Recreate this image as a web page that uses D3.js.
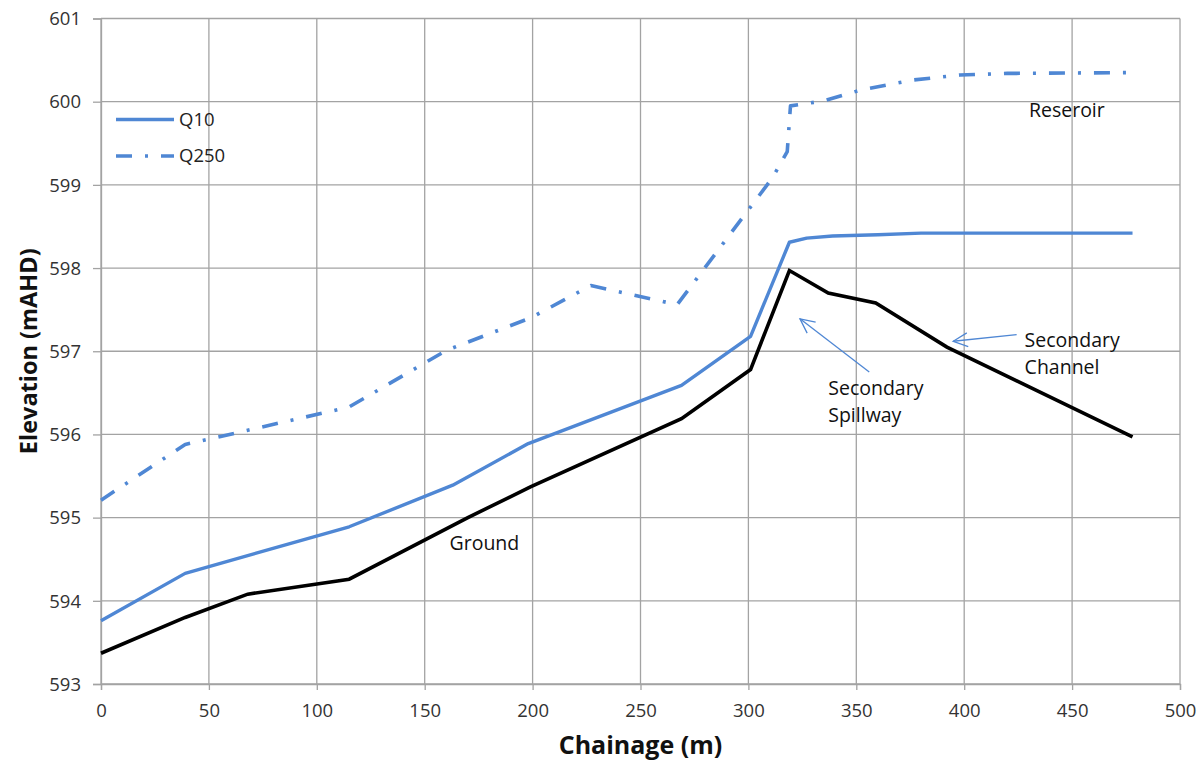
<!DOCTYPE html>
<html>
<head>
<meta charset="utf-8">
<script src="https://cdn.jsdelivr.net/npm/d3@7"></script>
<style>
  html, body { margin: 0; padding: 0; background: #fff; }
  svg { display: block; font-family: "Open Sans", sans-serif; }
</style>
</head>
<body>
<svg id="chart" width="1202" height="760"></svg>
<script>
// ---- data ----
const groundChainage = [0, 39, 68, 115, 170, 199, 269, 301, 319, 337, 359, 392, 478];
const groundElev     = [593.37, 593.80, 594.08, 594.26, 595.00, 595.37, 596.19, 596.78, 597.97, 597.70, 597.58, 597.05, 595.97];

const q10Chainage = [0, 39, 115, 163, 198, 269, 301, 319, 327, 339, 360, 380, 478];
const q10Elev     = [593.76, 594.33, 594.89, 595.39, 595.89, 596.59, 597.18, 598.31, 598.36, 598.385, 598.40, 598.42, 598.42];

const q250Chainage = [0, 39, 68, 115, 160, 199, 227, 267, 311, 318, 319.5, 335, 352, 376, 398, 420, 478];
const q250Elev     = [595.21, 595.88, 596.05, 596.33, 597.01, 597.40, 597.79, 597.56, 599.08, 599.40, 599.95, 600.01, 600.14, 600.26, 600.32, 600.34, 600.35];

const xTicks = [0, 50, 100, 150, 200, 250, 300, 350, 400, 450, 500];
const yTicks = [593, 594, 595, 596, 597, 598, 599, 600, 601];

const seriesNames = ["Q10", "Q250"];
const xTitle = "Chainage (m)";
const yTitle = "Elevation (mAHD)";

// annotation texts/anchors in data units
const labelTexts = [
  { lines: ["Reseroir"], x: 430, y: 599.82 },
  { lines: ["Ground"], x: 161.5, y: 594.61 },
  { lines: ["Secondary", "Spillway"], x: 337, y: 596.47 },
  { lines: ["Secondary", "Channel"], x: 428, y: 597.05 }
];
const arrowDefs = [
  { tip: [323.9, 597.39], tail: [356.0, 596.75] },
  { tip: [394.9, 597.12], tail: [424.3, 597.20] }
];

// ---- layout ----
const svg = d3.select("#chart");
const plotLeft = 101, plotRight = 1180, plotTop = 18.5, plotBottom = 684;
const x = d3.scaleLinear().domain([0, 500]).range([plotLeft, plotRight]);
const y = d3.scaleLinear().domain([593, 601]).range([plotBottom, plotTop]);

const gridColor = "#a3a3a3";
const blue = "#4f87d4";

// gridlines
svg.append("g").selectAll("line").data(yTicks).join("line")
  .attr("x1", plotLeft).attr("x2", plotRight)
  .attr("y1", d => y(d)).attr("y2", d => y(d))
  .attr("stroke", gridColor).attr("stroke-width", 1.3);
svg.append("g").selectAll("line").data(xTicks).join("line")
  .attr("x1", d => x(d)).attr("x2", d => x(d))
  .attr("y1", plotTop).attr("y2", plotBottom)
  .attr("stroke", gridColor).attr("stroke-width", 1.3);

// axes
const yAxis = d3.axisLeft(y).tickValues(yTicks).tickSize(8).tickPadding(12).tickFormat(d3.format("d"));
const xAxis = d3.axisBottom(x).tickValues(xTicks).tickSize(6).tickPadding(13).tickFormat(d3.format("d"));
const gy = svg.append("g").attr("transform", `translate(${plotLeft},0)`).call(yAxis);
const gx = svg.append("g").attr("transform", `translate(0,${plotBottom})`).call(xAxis);
[gx, gy].forEach(g => {
  g.select(".domain").attr("stroke", gridColor).attr("stroke-width", 1.3);
  g.selectAll(".tick line").attr("stroke", gridColor).attr("stroke-width", 1.3);
  g.selectAll(".tick text").attr("fill", "#333").style("font-size", "18.5px")
    .style("font-family", "'Open Sans', sans-serif");
});
gy.selectAll(".tick text").attr("dy", "0.34em");
gx.selectAll(".tick text").attr("dy", "0.75em");

// titles
svg.append("text").attr("x", (plotLeft + plotRight) / 2).attr("y", 754)
  .attr("text-anchor", "middle").attr("font-weight", "bold").attr("font-size", 25)
  .attr("fill", "#111").text(xTitle);
svg.append("text")
  .attr("transform", `translate(37,${(plotTop + plotBottom) / 2}) rotate(-90)`)
  .attr("text-anchor", "middle").attr("font-weight", "bold").attr("font-size", 23.5)
  .attr("fill", "#111").text(yTitle);

// lines
const line = d3.line().x(d => x(d[0])).y(d => y(d[1]));
const zip = (a, b) => a.map((v, i) => [v, b[i]]);

svg.append("path").datum(zip(q250Chainage, q250Elev)).attr("d", line)
  .attr("fill", "none").attr("stroke", blue).attr("stroke-width", 3.6)
  .attr("stroke-dasharray", "16,13,3,13").attr("stroke-linejoin", "round");
svg.append("path").datum(zip(q10Chainage, q10Elev)).attr("d", line)
  .attr("fill", "none").attr("stroke", blue).attr("stroke-width", 3.4)
  .attr("stroke-linejoin", "round");
svg.append("path").datum(zip(groundChainage, groundElev)).attr("d", line)
  .attr("fill", "none").attr("stroke", "#000").attr("stroke-width", 3.6)
  .attr("stroke-linejoin", "miter");

// legend
const legendY = [119.5, 156];
seriesNames.forEach((name, i) => {
  const l = svg.append("line").attr("x1", 116).attr("x2", 174)
    .attr("y1", legendY[i]).attr("y2", legendY[i])
    .attr("stroke", blue).attr("stroke-width", 3.6);
  if (i === 1) l.attr("stroke-dasharray", "16,13,3,13");
  svg.append("text").attr("x", 179).attr("y", legendY[i]).attr("dy", "0.35em")
    .attr("font-size", 18.5).attr("fill", "#222").text(name);
});

// annotation texts
labelTexts.forEach(t => {
  const tx = svg.append("text").attr("x", x(t.x)).attr("y", y(t.y))
    .attr("font-size", 19.5).attr("fill", "#111");
  t.lines.forEach((s, i) => {
    tx.append("tspan").attr("x", x(t.x)).attr("dy", i === 0 ? 0 : 27).text(s);
  });
});

// arrows
arrowDefs.forEach(a => {
  const x1 = x(a.tail[0]), y1 = y(a.tail[1]);
  const x2 = x(a.tip[0]), y2 = y(a.tip[1]);
  svg.append("line").attr("x1", x1).attr("y1", y1).attr("x2", x2).attr("y2", y2)
    .attr("stroke", blue).attr("stroke-width", 1.3);
  const ang = Math.atan2(y1 - y2, x1 - x2);
  const len = 16, spread = 0.45;
  const p = [ang - spread, ang + spread].map(t => [x2 + len * Math.cos(t), y2 + len * Math.sin(t)]);
  svg.append("path").attr("d", `M${p[0][0]},${p[0][1]}L${x2},${y2}L${p[1][0]},${p[1][1]}`)
    .attr("fill", "none").attr("stroke", blue).attr("stroke-width", 1.3);
});
</script>
</body>
</html>
